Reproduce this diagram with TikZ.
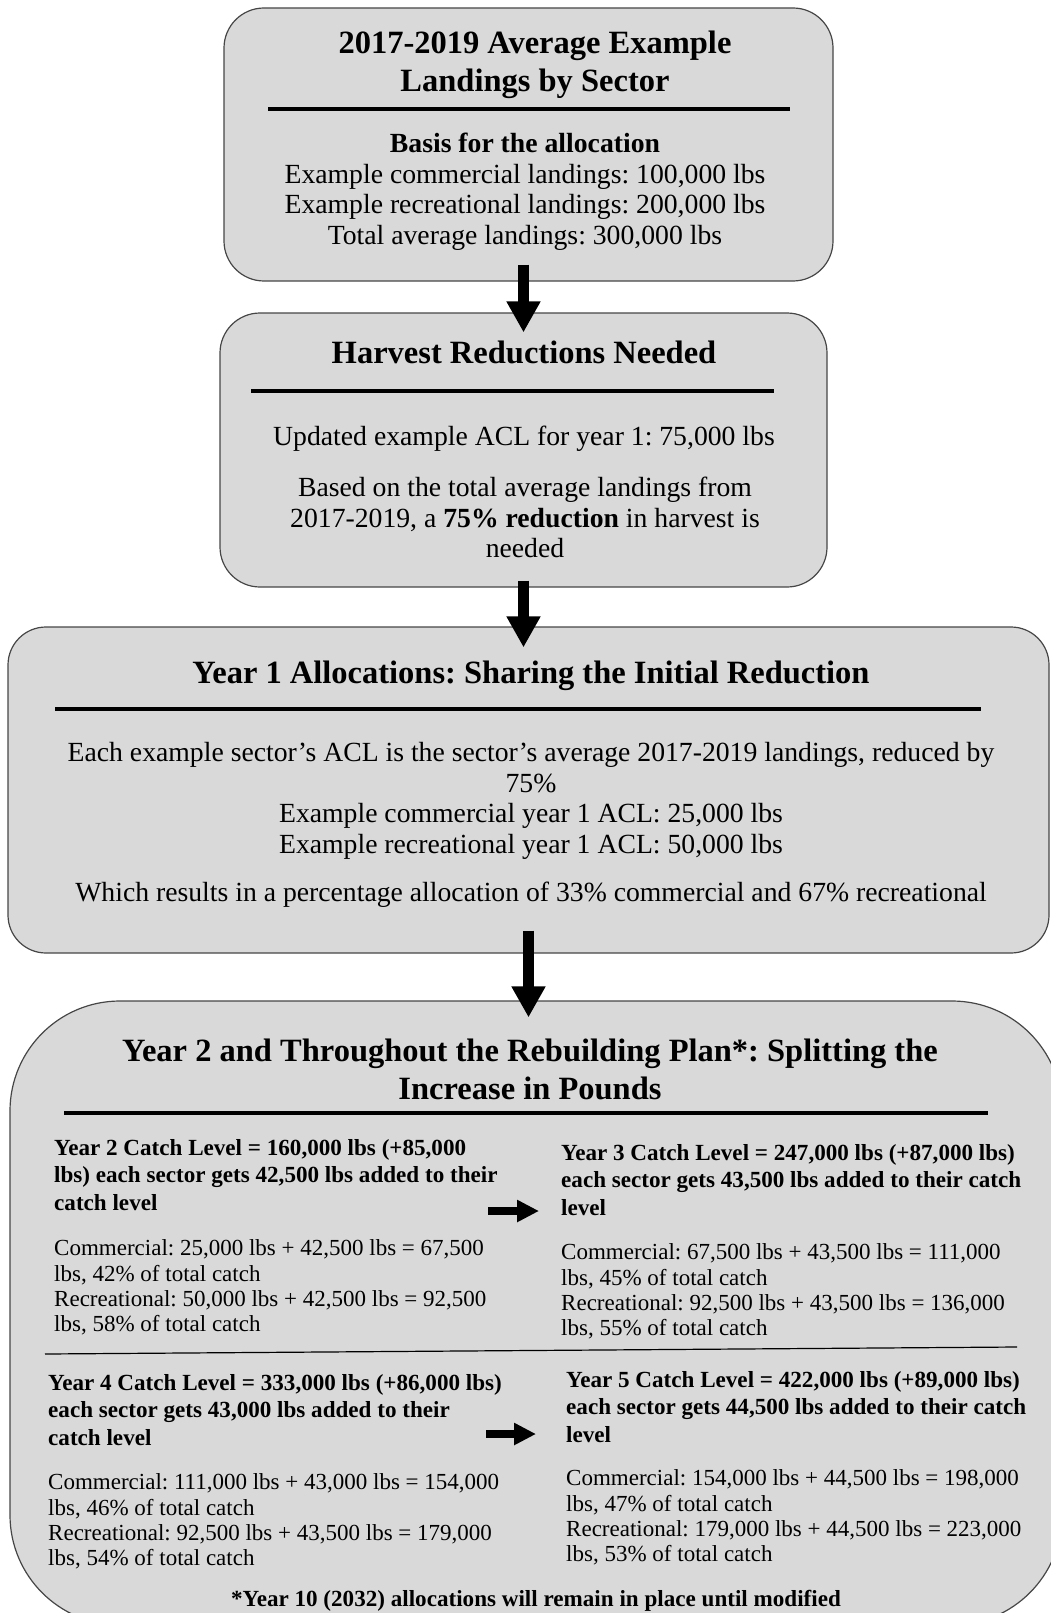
\documentclass[tikz,border=0pt]{standalone}
\usepackage{fontspec}
\setmainfont{Liberation Serif}
\usepackage{tikz}
\usetikzlibrary{arrows.meta}
\definecolor{panel}{RGB}{217, 217, 217}
\definecolor{edge}{RGB}{70, 70, 70}
\frenchspacing

\begin{document}
\begin{tikzpicture}[x=1pt, y=-1pt,
  panelbox/.style={draw=edge, fill=panel, line width=1.2, inner sep=0},
  heading/.style={font=\fontsize{32.5}{38}\selectfont\bfseries, align=center, inner sep=0},
  bodytext/.style={font=\fontsize{27.7}{30.5}\selectfont, align=center, inner sep=0},
  subhead/.style={font=\fontsize{23.1}{27.5}\selectfont\bfseries, align=left, inner sep=0, anchor=north west},
  calctext/.style={font=\fontsize{23}{25.3}\selectfont, align=left, inner sep=0, anchor=north west},
  titlerule/.style={line width=4},
  downarrow/.style={line width=11, -{Triangle[length=31pt, width=32pt]}},
  sidearrow/.style={line width=8, -{Triangle[length=22pt, width=21pt]}}]

\useasboundingbox (0, 0) rectangle (1050, 1613);

\node[panelbox, rounded corners=40, minimum width=609, minimum height=273] (basis) at (528.5, 144.5) {};
\node[heading, anchor=north] (basistitle) at (535, 26.4) {\strut 2017-2019 Average Example\\Landings by Sector};
\draw[titlerule] (268, 109) -- (790, 109);
\node[bodytext, anchor=north] (basistext) at (525, 131.2) {\strut\textbf{Basis for the allocation}\\Example commercial landings: 100,000 lbs\\Example recreational landings: 200,000 lbs\\Total average landings: 300,000 lbs};

\node[panelbox, rounded corners=40, minimum width=607, minimum height=274] (harvest) at (523.5, 450) {};
\node[heading, anchor=base] (harvesttitle) at (524, 363) {Harvest Reductions Needed};
\draw[titlerule] (251, 391) -- (774, 391);
\node[bodytext, anchor=base] (updatedacl) at (524, 445.6) {Updated example ACL for year 1: 75,000 lbs};
\node[bodytext, anchor=north] (basedon) at (525, 475.2) {\strut Based on the total average landings from\\2017-2019, a \textbf{75\% reduction} in harvest is\\needed};

\node[panelbox, rounded corners=38, minimum width=1041, minimum height=326] (yearone) at (528.5, 790) {};
\node[heading, anchor=base] (yearonetitle) at (531, 683) {Year 1 Allocations: Sharing the Initial Reduction};
\draw[titlerule] (55, 709) -- (981, 709);
\node[bodytext, anchor=north] (sectoracl) at (531, 740.2) {\strut Each example sector's ACL is the sector's average 2017-2019 landings, reduced by\\75\%\\Example commercial year 1 ACL: 25,000 lbs\\Example recreational year 1 ACL: 50,000 lbs};
\node[bodytext, anchor=base] (percentage) at (531, 901.6) {Which results in a percentage allocation of 33\% commercial and 67\% recreational};

\node[panelbox, rounded corners=110, minimum width=1052, minimum height=624] (rebuild) at (536, 1313) {};
\node[heading, anchor=north] (rebuildtitle) at (530, 1034.4) {\strut Year 2 and Throughout the Rebuilding Plan*: Splitting the\\Increase in Pounds};
\draw[titlerule] (64, 1113) -- (988, 1113);

\node[subhead] (yeartwo) at (54, 1135.7) {\strut Year 2 Catch Level = 160,000 lbs (+85,000\\lbs) each sector gets 42,500 lbs added to their\\catch level};
\node[calctext] (yeartwocalc) at (54, 1237.8) {\strut Commercial: 25,000 lbs + 42,500 lbs = 67,500\\lbs, 42\% of total catch\\Recreational: 50,000 lbs + 42,500 lbs = 92,500\\lbs, 58\% of total catch};
\node[subhead] (yearthree) at (561, 1140.7) {\strut Year 3 Catch Level = 247,000 lbs (+87,000 lbs)\\each sector gets 43,500 lbs added to their catch\\level};
\node[calctext] (yearthreecalc) at (561, 1241.8) {\strut Commercial: 67,500 lbs + 43,500 lbs = 111,000\\lbs, 45\% of total catch\\Recreational: 92,500 lbs + 43,500 lbs = 136,000\\lbs, 55\% of total catch};

\draw[line width=1.2] (45, 1354) -- (1017, 1347);

\node[subhead] (yearfour) at (48, 1370.6) {\strut Year 4 Catch Level = 333,000 lbs (+86,000 lbs)\\each sector gets 43,000 lbs added to their\\catch level};
\node[calctext] (yearfourcalc) at (48, 1471.8) {\strut Commercial: 111,000 lbs + 43,000 lbs = 154,000\\lbs, 46\% of total catch\\Recreational: 92,500 lbs + 43,500 lbs = 179,000\\lbs, 54\% of total catch};
\node[subhead] (yearfive) at (566, 1367.6) {\strut Year 5 Catch Level = 422,000 lbs (+89,000 lbs)\\each sector gets 44,500 lbs added to their catch\\level};
\node[calctext] (yearfivecalc) at (566, 1467.8) {\strut Commercial: 154,000 lbs + 44,500 lbs = 198,000\\lbs, 47\% of total catch\\Recreational: 179,000 lbs + 44,500 lbs = 223,000\\lbs, 53\% of total catch};

\node[font=\fontsize{23.1}{27.5}\selectfont\bfseries, anchor=base, inner sep=0] (footnote) at (536, 1606) {*Year 10 (2032) allocations will remain in place until modified};

\draw[downarrow] ([yshift=17pt]harvest.north |- basis.south) -- ([yshift=-20pt]harvest.north);
\draw[downarrow] ([yshift=7pt]harvest.south) -- ([yshift=-21pt]harvest.south |- yearone.north);
\draw[downarrow] ([yshift=23pt]yearone.south) -- ([yshift=-17pt]yearone.south |- rebuild.north);

\coordinate (twostart) at (488, 1211);
\coordinate (twoend) at (539, 1211);
\draw[sidearrow] (twostart) -- (twoend);
\coordinate (fourstart) at (486, 1434);
\coordinate (fourend) at (536, 1434);
\draw[sidearrow] (fourstart) -- (fourend);

\end{tikzpicture}
\end{document}
